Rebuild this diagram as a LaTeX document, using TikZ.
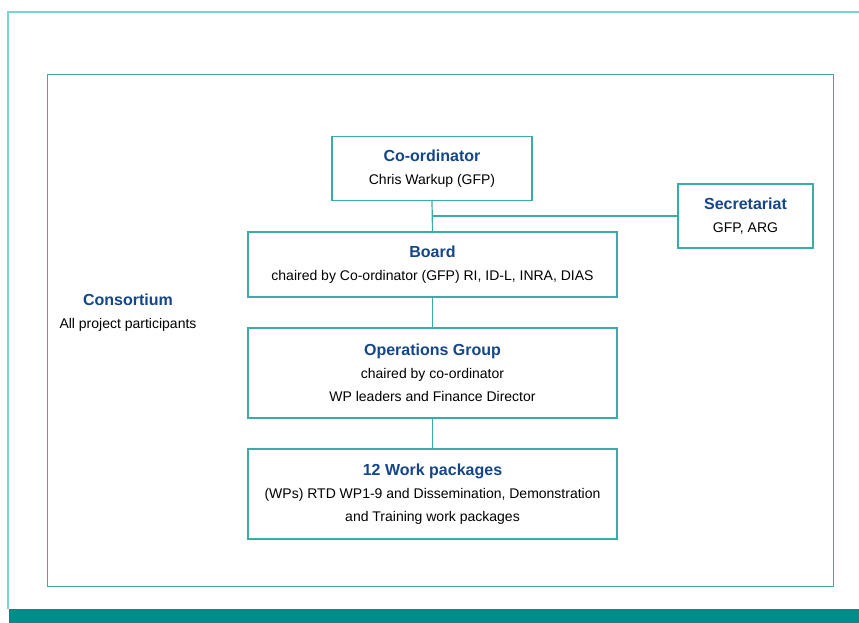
\documentclass[tikz,border=0pt]{standalone}
\usepackage{fontspec}
\setmainfont{Liberation Sans}
\usepackage{xcolor}
\usepackage{tikz}

\definecolor{frameteal}{RGB}{120,214,210}
\definecolor{boxteal}{RGB}{58,172,168}
\definecolor{barteal}{RGB}{0,140,138}
\definecolor{titleblue}{RGB}{20,70,140}

\newcommand{\boxtitle}[1]{{\fontsize{16}{23}\selectfont\bfseries\color{titleblue}#1}}

\tikzset{
  orgbox/.style={draw=boxteal, line width=1.2pt, align=center, inner sep=0pt,
    font=\fontsize{14}{23}\selectfont},
  link/.style={draw=boxteal, line width=1.2pt}
}

\begin{document}
\begin{tikzpicture}[x=1pt,y=-1pt]
            \useasboundingbox (0,0) rectangle (859,623);
            \fill[white] (0,0) rectangle (859,623);

            % frames
            \draw[frameteal, line width=2pt] (8,609) -- (8,12) -- (859,12);
            \fill[barteal] (9,609) rectangle (859,623);
            \draw[boxteal, line width=1pt] (47,75) rectangle (833,586);

            \node[orgbox, minimum width=200pt, minimum height=64pt] at (432,168.5) (coord)
                {\boxtitle{Co-ordinator}\\Chris Warkup (GFP)};
            \node[orgbox, minimum width=135pt, minimum height=64pt] at (745.5,216) (secr)
                {\boxtitle{Secretariat}\\GFP, ARG};
            \node[orgbox, minimum width=369pt, minimum height=65pt] at (432.5,264.5) (board)
                {\boxtitle{Board}\\chaired by Co-ordinator (GFP) RI, ID-L, INRA, DIAS};
            \node[orgbox, minimum width=369pt, minimum height=90pt] at (432.5,373) (ops)
                {\boxtitle{Operations Group}\\chaired by co-ordinator\\WP leaders and Finance Director};
            \node[orgbox, minimum width=369pt, minimum height=90pt] at (432.5,494) (wp)
                {\boxtitle{12 Work packages}\\(WPs) RTD WP1-9 and Dissemination, Demonstration\\and Training work packages};
            \node[align=center, font=\fontsize{14}{23}\selectfont] at (128,313) (consort)
                {\boxtitle{Consortium}\\All project participants};

            \coordinate (branch) at (coord.south |- secr.west);
            \draw[link] (coord.south) -- (board.north);
            \draw[link] (branch) -- (secr.west);
            \draw[link] (board.south) -- (ops.north);
            \draw[link] (ops.south) -- (wp.north);
        \end{tikzpicture}
\end{document}
